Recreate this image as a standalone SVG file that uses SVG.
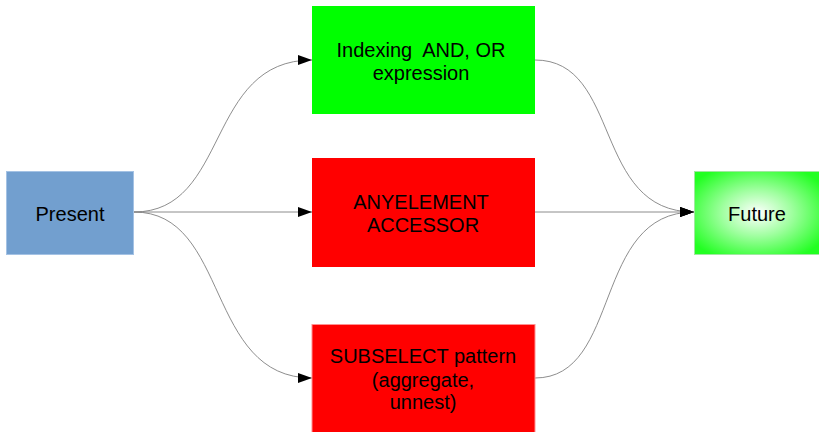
<svg xmlns="http://www.w3.org/2000/svg" width="819" height="432" viewBox="0 0 819 432">
  <style>
    .lbl { font-family: "Liberation Sans", Arial, sans-serif; font-size: 20px; fill: #000; text-anchor: middle; white-space: pre; }
    .edge { fill: none; stroke: #808080; stroke-width: 0.9; }
  </style>
  <defs>
    <marker id="arrow" viewBox="0 0 14 10" refX="14" refY="5" markerWidth="14" markerHeight="10" markerUnits="userSpaceOnUse" orient="auto">
      <path d="M0,0 L14,5 L0,10 Z" fill="#000"/>
    </marker>
    <radialGradient id="glow" cx="50%" cy="50%" r="62%">
      <stop offset="0" stop-color="#ffffff"/>
      <stop offset="0.45" stop-color="#a0ffa0"/>
      <stop offset="1" stop-color="#22ff22"/>
    </radialGradient>
  </defs>

  <g id="connectors">
    <path class="edge" marker-end="url(#arrow)" d="M134,212 C230,212 205,60 312,60"/>
    <path class="edge" marker-end="url(#arrow)" d="M134,212 L312,212"/>
    <path class="edge" marker-end="url(#arrow)" d="M134,212 C230,212 205,378 312,378"/>
    <path class="edge" marker-end="url(#arrow)" d="M535,60 C622,60 592,212 694,212"/>
    <path class="edge" marker-end="url(#arrow)" d="M535,212 L694,212"/>
    <path class="edge" marker-end="url(#arrow)" d="M535,378 C622,378 592,212 694,212"/>
  </g>

  <g id="present">
    <rect x="6.5" y="171.5" width="127" height="83" fill="#729fcf" stroke="#a4c2e4" stroke-width="1"/>
    <text class="lbl" x="70" y="221">Present</text>
  </g>

  <g id="indexing">
    <rect x="312" y="6" width="223" height="108" fill="#00ff00"/>
    <text class="lbl" x="421" y="57" xml:space="preserve">Indexing  AND, OR</text>
    <text class="lbl" x="421" y="80">expression</text>
  </g>

  <g id="anyelement">
    <rect x="312" y="158" width="223" height="109" fill="#ff0000"/>
    <text class="lbl" x="421" y="209">ANYELEMENT</text>
    <text class="lbl" x="423" y="232">ACCESSOR</text>
  </g>

  <g id="subselect">
    <rect x="312" y="324.5" width="223" height="108" fill="#ff0000" stroke="#ff9090" stroke-width="1"/>
    <text class="lbl" x="423" y="363">SUBSELECT pattern</text>
    <text class="lbl" x="423" y="387">(aggregate,</text>
    <text class="lbl" x="423" y="409">unnest)</text>
  </g>

  <g id="future">
    <rect x="694.5" y="171.5" width="125" height="83" fill="url(#glow)" stroke="#a0e8a0" stroke-width="1"/>
    <text class="lbl" x="757" y="221">Future</text>
  </g>
</svg>
